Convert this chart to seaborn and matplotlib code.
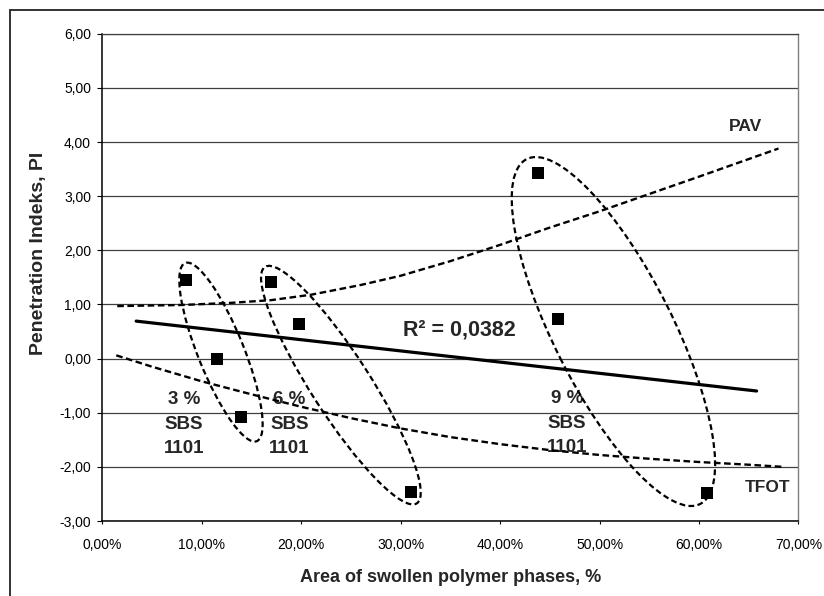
import numpy as np
import matplotlib
matplotlib.use('Agg')
import matplotlib.pyplot as plt
import matplotlib.ticker as mticker
from matplotlib.patches import Ellipse, Rectangle
from matplotlib.transforms import ScaledTranslation
import seaborn as sns

# measured samples: area of swollen polymer phases (%) vs penetration index
area_pct = [8.4, 11.5, 13.9, 17.0, 19.8, 31.0, 43.8, 45.8, 60.8]
pen_index = [1.46, 0.00, -1.07, 1.41, 0.63, -2.46, 3.43, 0.73, -2.48]

# aging curves
pav_x = [1.5, 8, 13, 17, 21, 26, 30, 35, 40, 45, 50, 55, 60, 64, 68]
pav_y = [0.97, 0.99, 1.03, 1.08, 1.18, 1.36, 1.53, 1.80, 2.10, 2.42, 2.72, 3.04, 3.36, 3.62, 3.88]
tfot_x = [1.4, 5, 10, 15, 20, 25, 30, 35, 40, 45, 50, 55, 60, 65, 68.5]
tfot_y = [0.06, -0.15, -0.42, -0.66, -0.89, -1.10, -1.29, -1.45, -1.58, -1.69, -1.78, -1.85, -1.91, -1.96, -2.00]

group_labels = ['3 %\nSBS\n1101', '6 %\nSBS\n1101', '9 %\nSBS\n1101']
group_x = [8.2, 18.8, 46.7]
group_y = [-1.21, -1.21, -1.19]

r2_text = 'R\u00b2 = 0,0382'

sns.set_theme(style='white')
plt.rcParams['font.family'] = ['Liberation Sans', 'DejaVu Sans']

fig = plt.figure(figsize=(8.24, 5.96), dpi=100)
ax = fig.add_axes([0.1242, 0.1258, 0.8447, 0.8176])

# linear trend (Excel style, extended 5 % each way)
coef = np.polyfit(area_pct, pen_index, 1)
trend_x = np.array([min(area_pct) - 5, max(area_pct) + 5])
sns.lineplot(x=trend_x, y=np.polyval(coef, trend_x), color='black', lw=2.3, ax=ax, zorder=4)

sns.lineplot(x=pav_x, y=pav_y, color='black', lw=1.7, linestyle=(0, (2.8, 1.5)), ax=ax, zorder=4)
sns.lineplot(x=tfot_x, y=tfot_y, color='black', lw=1.7, linestyle=(0, (2.8, 1.5)), ax=ax, zorder=4)

sns.scatterplot(x=area_pct, y=pen_index, marker='s', s=72, color='black',
                edgecolor='black', linewidth=0, ax=ax, zorder=5)

# dashed group ellipses (center in data, size in pixels)
ellipses = [((11.93, 0.12), 192, 46, -68.1),
            ((23.99, -0.49), 281, 59, -57.3),
            ((51.4, 0.50), 386, 119, -63.3)]
for (cx, cy), w, h, ang in ellipses:
    tr = fig.dpi_scale_trans + ScaledTranslation(cx, cy, ax.transData)
    ax.add_patch(Ellipse((0, 0), w / 100, h / 100, angle=ang, transform=tr,
                         fill=False, edgecolor='black', lw=1.6,
                         linestyle=(0, (2.6, 1.5)), zorder=4))

for lab, gx, gy in zip(group_labels, group_x, group_y):
    ax.text(gx, gy, lab, ha='center', va='center', fontsize=13.5,
            fontweight='bold', linespacing=1.55, zorder=2)

ax.text(30.2, 0.53, r2_text, ha='left', va='center', fontsize=15.5, fontweight='bold', zorder=2)
ax.text(63.0, 4.28, 'PAV', ha='left', va='center', fontsize=12.5, fontweight='bold')
ax.text(64.6, -2.38, 'TFOT', ha='left', va='center', fontsize=12.5, fontweight='bold')

ax.set_xlim(0, 70)
ax.set_ylim(-3, 6)
ax.xaxis.set_major_locator(mticker.MultipleLocator(10))
ax.yaxis.set_major_locator(mticker.MultipleLocator(1))
ax.xaxis.set_major_formatter(mticker.FuncFormatter(lambda v, p: f'{v:.2f}%'.replace('.', ',')))
ax.yaxis.set_major_formatter(mticker.FuncFormatter(lambda v, p: f'{v:.2f}'.replace('.', ',')))
ax.tick_params(axis='y', left=True, direction='out', length=3.6, width=0.8,
               pad=4.5, labelsize=10, colors='black')
ax.tick_params(axis='x', bottom=True, direction='out', length=2.5, width=0.8,
               pad=10, labelsize=10, colors='black')

ax.yaxis.grid(True, color='#404040', lw=0.9)
ax.xaxis.grid(False)
ax.set_axisbelow(True)
for side in ['left', 'bottom']:
    ax.spines[side].set_color('black')
    ax.spines[side].set_linewidth(1.1)
ax.spines['top'].set_color('#404040')
ax.spines['top'].set_linewidth(0.9)
ax.spines['right'].set_color('#808080')
ax.spines['right'].set_linewidth(1.0)

ax.set_xlabel('Area of swollen polymer phases, %', fontsize=13, fontweight='bold', va='center')
ax.xaxis.set_label_coords(0.5, -0.115)
ax.set_ylabel('Penetration Indeks, PI', fontsize=14, fontweight='bold', va='center')
ax.yaxis.set_label_coords(-0.0924, 0.55)

# outer chart frame
fig.patches.append(Rectangle((10 / 824, -1), 2, 2 - 10 / 596, transform=fig.transFigure,
                             fill=False, edgecolor='#222222', lw=1.3))

fig.savefig('out.png', dpi=100)
